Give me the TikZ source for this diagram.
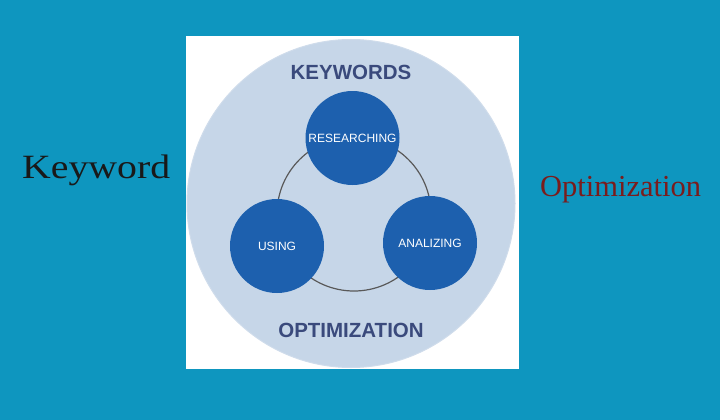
\documentclass[tikz,border=0pt]{standalone}
\usepackage{fontspec}
\setmainfont{Liberation Serif}
\setsansfont{Liberation Sans}
\usepackage{graphicx}
\definecolor{bgteal}{HTML}{0E96BF}
\definecolor{bigc}{HTML}{C6D6E8}
\definecolor{smallc}{HTML}{1D60AE}
\definecolor{navy}{HTML}{3A4A7C}
\definecolor{darkred}{HTML}{7A1C1C}
\tikzset{
  smallcirc/.style={circle, fill=smallc, minimum size=94pt, inner sep=0pt, text=white,
    font=\sffamily\fontsize{12}{12}\selectfont},
  bigtitle/.style={text=navy, font=\sffamily\bfseries\fontsize{20.5}{20.5}\selectfont},
}
\begin{document}
\begin{tikzpicture}[x=1pt,y=-1pt]
\fill[bgteal] (0,0) rectangle (720,420);
\useasboundingbox (0,0) rectangle (720,420);
\fill[white] (186,36) rectangle (519,369);
\node[circle, fill=bigc, draw=bigc!85!white, line width=1pt, minimum size=328pt, inner sep=0pt] (big) at (351,203.5) {};
\node[circle, draw=black!65, line width=1.2pt, minimum size=154pt, inner sep=0pt] (ring) at (354,214) {};
\node[smallcirc] (res) at (352.5,138) {RESEARCHING};
\node[smallcirc] (use) at (277,246) {USING};
\node[smallcirc] (ana) at (430,243) {ANALIZING};
\node[bigtitle] (kw) at (351,72) {KEYWORDS};
\node[bigtitle] (opt) at (351,330) {OPTIMIZATION};
\node[anchor=base west, inner sep=0pt, text=black!90] (left) at (22,178)
  {\scalebox{1.17}[1]{\fontsize{34}{34}\selectfont Keyword}};
\node[anchor=base west, inner sep=0pt, text=darkred] (right) at (540,196)
  {\fontsize{30.5}{30.5}\selectfont Optimization};
\end{tikzpicture}
\end{document}
